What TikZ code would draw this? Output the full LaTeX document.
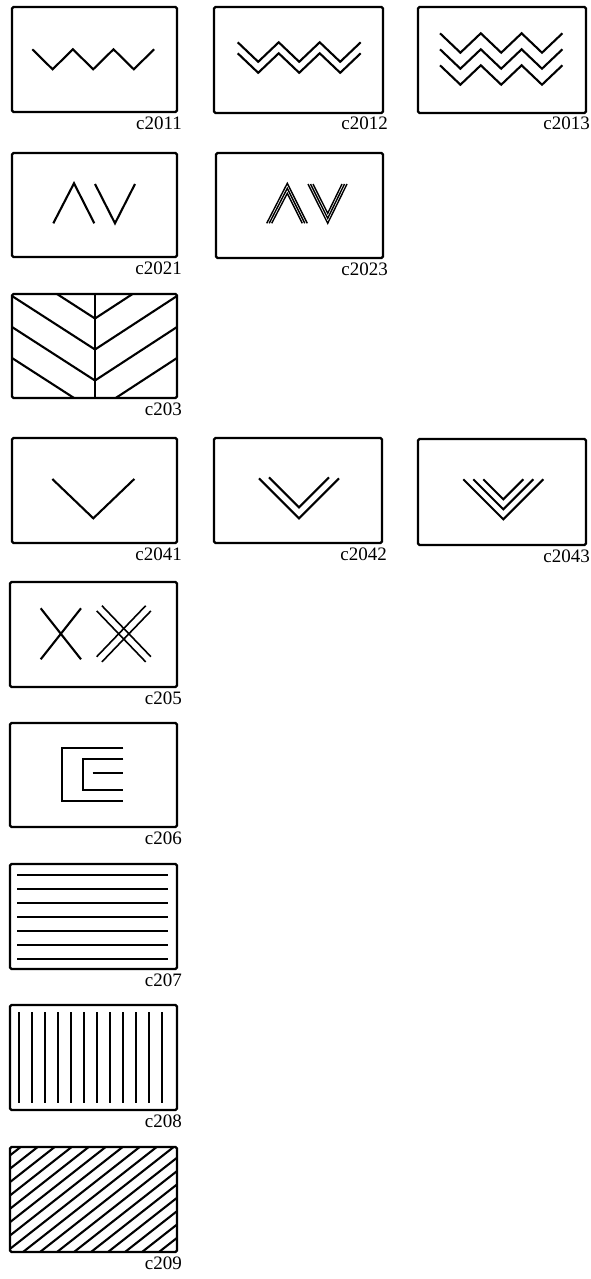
\documentclass[tikz,border=0pt]{standalone}
\usepackage{fontspec}
\setmainfont{Liberation Serif}
\usetikzlibrary{positioning}

\begin{document}
\begin{tikzpicture}[x=1pt,y=-1pt,
    tile/.style={draw,line width=2.2pt,rounded corners=1.5pt},
    patt/.style={line width=2.1pt},
    lab/.style={anchor=base east,inner sep=0pt,font=\fontsize{19}{19}\selectfont}]
  \useasboundingbox (0,0) rectangle (590,1279);

  % row 1: zigzags
  \draw[tile] (12,7) rectangle (177,112);
  \node[lab] (l2011) at (182,129) {c2011};
  \draw[patt] (32.3,49.3) \foreach \i in {1,2,3}{ -- ++(20.3,20) -- ++(20.3,-20)};

  \draw[tile] (214,7) rectangle (383,113);
  \node[lab] (l2012) at (388,130) {c2012};
  \foreach \dy in {0,11}
    \draw[patt] (237.7,42.3+\dy) \foreach \i in {1,2,3}{ -- ++(20.5,19.5) -- ++(20.5,-19.5)};

  \draw[tile] (418,7) rectangle (586,113);
  \node[lab] (l2013) at (590,130) {c2013};
  \foreach \dy in {0,16,32}
    \draw[patt] (440,33.3+\dy) \foreach \i in {1,2,3}{ -- ++(20.4,19.4) -- ++(20.4,-19.4)};

  % row 2
  \draw[tile] (12,153) rectangle (177,257);
  \node[lab] (l2021) at (182,274) {c2021};
  \draw[patt] (53.3,223.3) -- (74,183.3) -- (94.3,223.3);
  \draw[patt] (95,184) -- (115,223.3) -- (135,184);

  \draw[tile] (216,153) rectangle (383,258);
  \node[lab] (l2023) at (388,275) {c2023};
  \foreach \d in {0,5,10}{
    \draw[line width=1.4pt] (266.7+\d*0.5,223.3) -- (287.3,183.3+\d) -- (307.3-\d*0.5,223.3);
    \draw[line width=1.4pt] (308+\d*0.5,184) -- (327.7,223.3-\d) -- (347-\d*0.5,184);
  }

  % row 3: herringbone
  \draw[tile] (12,294) rectangle (177,398);
  \node[lab] (l203) at (182,415) {c203};
  \begin{scope}
    \clip (12,294) rectangle (177,398);
    \foreach \y in {265,296,327,358}{
      \draw[patt] (12,\y) -- (95,\y+53.5);
      \draw[patt] (177,\y) -- (95,\y+53.5);
    }
  \end{scope}
  \draw[patt] (95,294) -- (95,398);

  % row 4: chevrons
  \draw[tile] (12,438) rectangle (177,543);
  \node[lab] (l2041) at (182,560) {c2041};
  \draw[patt] (52.3,479) -- (93.3,518.3) -- (134.3,479);

  \draw[tile] (214,438) rectangle (382,543);
  \node[lab] (l2042) at (387,560) {c2042};
  \foreach \h/\dy in {40/0,30/11}
    \draw[patt] (299-\h,518.3-\dy-\h) -- (299,518.3-\dy) -- (299+\h,518.3-\dy-\h);

  \draw[tile] (418,439) rectangle (586,545);
  \node[lab] (l2043) at (590,562) {c2043};
  \foreach \h/\dy in {40/0,30/10,20/20}
    \draw[patt] (503.3-\h,519.3-\dy-\h) -- (503.3,519.3-\dy) -- (503.3+\h,519.3-\dy-\h);

  % row 5: crosses
  \draw[tile] (10,582) rectangle (177,687);
  \node[lab] (l205) at (182,704) {c205};
  \draw[patt] (40.7,608.3) -- (81,659.3);
  \draw[patt] (81,608.3) -- (40.7,659.3);
  \foreach \o in {-2.6,2.6}{
    \draw[line width=1.6pt] (99.3+\o,608.3-\o) -- (148.3+\o,659.3-\o);
    \draw[line width=1.6pt] (148.3+\o,608.3+\o) -- (99.3+\o,659.3+\o);
  }

  % row 6
  \draw[tile] (10,723) rectangle (177,827);
  \node[lab] (l206) at (182,844) {c206};
  \draw[patt] (123.3,748.3) -- (61.7,748.3) -- (61.7,800.7) -- (123.3,800.7);
  \draw[patt] (123.3,759.3) -- (82.7,759.3) -- (82.7,790) -- (123.3,790);
  \draw[patt] (92.7,773.3) -- (123.3,773.3);

  % row 7: horizontal lines
  \draw[tile] (10,864) rectangle (177,969);
  \node[lab] (l207) at (182,986) {c207};
  \foreach \i in {0,...,6}
    \draw[patt] (17.3,875+14*\i) -- (167.7,875+14*\i);

  % row 8: vertical lines
  \draw[tile] (10,1005) rectangle (177,1110);
  \node[lab] (l208) at (182,1127) {c208};
  \foreach \i in {0,...,11}
    \draw[patt] (19+13*\i,1012) -- (19+13*\i,1103);

  % row 9: slanted hatching
  \draw[tile] (10,1147) rectangle (177,1252);
  \node[lab] (l209) at (182,1269) {c209};
  \begin{scope}
    \clip (10,1147) rectangle (177,1252);
    \foreach \i in {0,...,17}
      \draw[patt] (-130+17*\i,1252) -- ++(140,-110);
  \end{scope}
\end{tikzpicture}
\end{document}
